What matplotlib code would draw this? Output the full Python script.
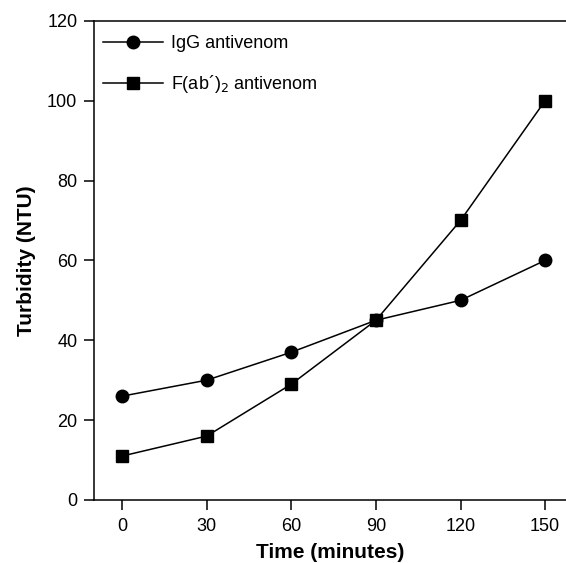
import matplotlib

matplotlib.use("Agg")
import matplotlib.pyplot as plt

plt.rcParams["font.family"] = ["Liberation Sans", "DejaVu Sans"]

# Turbidity over time for two antivenom types
time_min = [0, 30, 60, 90, 120, 150]
igg_ntu = [26, 30, 37, 45, 50, 60]
fab2_ntu = [11, 16, 29, 45, 70, 100]
x_ticks = [0, 30, 60, 90, 120, 150]
y_ticks = [0, 20, 40, 60, 80, 100, 120]

fig = plt.figure(figsize=(5.66, 5.63), dpi=100)
ax = fig.add_axes([0.166, 0.112, 0.834, 0.851])

ax.plot(time_min, igg_ntu, "-o", color="black", lw=1.1, ms=9, label="IgG antivenom")
ax.plot(time_min, fab2_ntu, "-s", color="black", lw=1.1, ms=8.5,
        label="F(ab\u00b4)$_2$ antivenom")

ax.set_xlim(-10, 157.4)
ax.set_ylim(0, 120)
ax.set_xticks(x_ticks)
ax.set_yticks(y_ticks)
ax.tick_params(axis="both", labelsize=13, length=7, width=1.1, direction="out", pad=5)
ax.tick_params(axis="x", pad=6)
ax.spines["right"].set_visible(False)
for s in ("left", "top", "bottom"):
    ax.spines[s].set_linewidth(1.1)

ax.set_xlabel("Time (minutes)", fontsize=15, fontweight="bold", labelpad=6)
ax.set_ylabel("Turbidity (NTU)", fontsize=15, fontweight="bold", labelpad=8)

ax.legend(loc="upper left", bbox_to_anchor=(0.004, 0.985), frameon=False, fontsize=13,
          handlelength=3.3, borderaxespad=0, labelspacing=1.15, handletextpad=0.45)

fig.savefig("out.png", dpi=100)
